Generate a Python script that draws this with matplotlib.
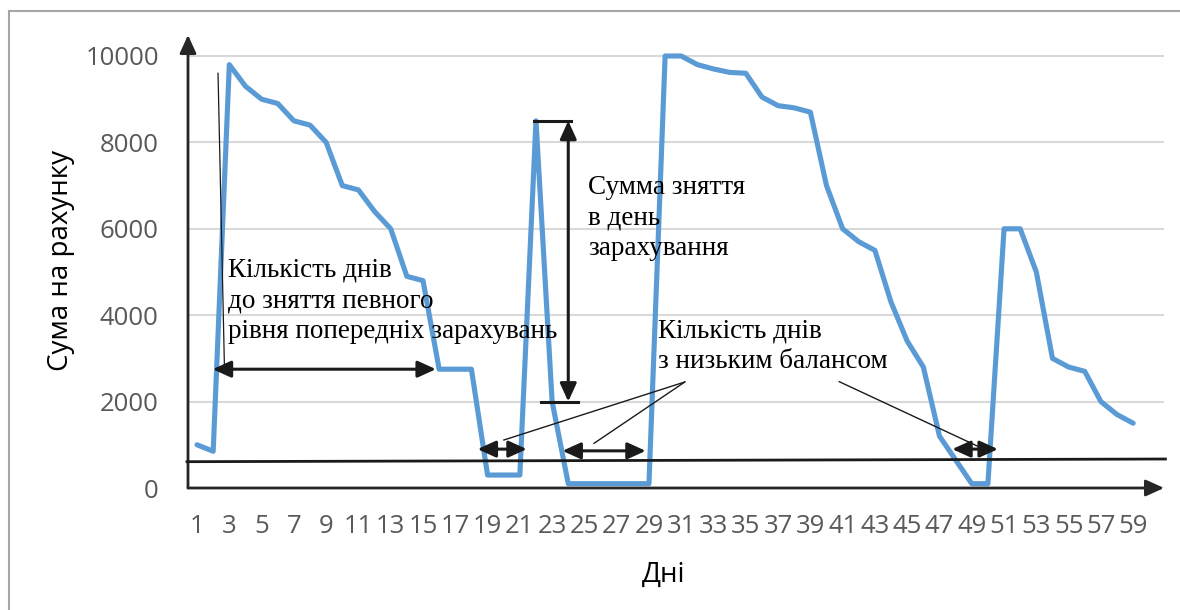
import numpy as np
import matplotlib.pyplot as plt
from matplotlib.lines import Line2D

# balance on the account per day
days = list(range(1, 60))
balance = [1000, 850, 9800, 9300, 9000, 8900, 8500, 8400, 8000, 7000,
           6900, 6400, 6000, 4900, 4800, 2750, 2750, 2750, 300, 300,
           300, 8500, 2000, 100, 100, 100, 100, 100, 100, 10000,
           10000, 9800, 9700, 9620, 9600, 9050, 8850, 8800, 8700, 7000,
           6000, 5700, 5500, 4300, 3400, 2800, 1200, 650, 100, 100,
           6000, 6000, 5000, 3000, 2800, 2700, 2000, 1700, 1500]
x_ticks = days[::2]
y_ticks = [0, 2000, 4000, 6000, 8000, 10000]

text_a = ['Кількість днів', 'до зняття певного', 'рівня попередніх зарахувань']
text_b = ['Сумма зняття', 'в день', 'зарахування']
text_c = ['Кількість днів', 'з низьким балансом']

line_color = '#5B9BD5'
serif = ['Liberation Serif', 'DejaVu Serif']
ink = '#1a1a1a'

plt.rcParams['font.family'] = ['Open Sans', 'DejaVu Sans']

fig = plt.figure(figsize=(11.8, 6.1), dpi=100)
ax = fig.add_axes([188 / 1180, 1 - 488 / 610, (1164 - 188) / 1180, (488 - 35) / 610])

ax.plot(days, balance, color=line_color, lw=3.7, solid_joinstyle='round',
        solid_capstyle='round', zorder=3)

ax.set_xlim(0.44, 60.91)
ax.set_ylim(0, 10486)
ax.set_xticks(x_ticks)
ax.set_yticks(y_ticks)
ax.tick_params(length=0, labelsize=18.5, labelcolor='#595959')
ax.tick_params(axis='x', pad=19)
ax.tick_params(axis='y', pad=21)
for s in ax.spines.values():
    s.set_visible(False)
ax.grid(axis='y', color='#D9D9D9', lw=1.5)
ax.set_axisbelow(True)

ax.set_ylabel('Сума на рахунку', fontsize=20, color='black')
ax.yaxis.set_label_coords(-0.116, 0.503)
ax.set_xlabel('Дні', fontsize=20, color='black')
ax.xaxis.set_label_coords(0.4877, -0.16)

# axis arrows
axis_kw = dict(arrowstyle='-|>,head_length=0.55,head_width=0.25', color='#262626',
               lw=2, shrinkA=0, shrinkB=0, mutation_scale=20)
ax.annotate('', xy=(1, 0), xytext=(0, 0), xycoords='axes fraction',
            arrowprops=axis_kw, annotation_clip=False)
ax.annotate('', xy=(0, 1), xytext=(0, 0), xycoords='axes fraction',
            arrowprops=axis_kw, annotation_clip=False)

# annotations
dbl_kw = dict(arrowstyle='<|-|>,head_length=0.55,head_width=0.25', color=ink,
              lw=2.2, shrinkA=0, shrinkB=0, mutation_scale=20)

def dbl_arrow(p0, p1):
    ax.annotate('', xy=p1, xytext=p0, arrowprops=dbl_kw, annotation_clip=False, zorder=4)

# threshold line
ax.plot([0.38, 61.0], [609, 671], color=ink, lw=2, clip_on=False, zorder=4)

# days until withdrawal
ax.plot([2.3, 2.7], [9600, 2750], color=ink, lw=0.9, zorder=4)
dbl_arrow((1.97, 2750), (15.8, 2750))
for txt, yb in zip(text_a, [4889, 4178, 3479]):
    ax.text(2.92, yb, txt, family=serif, fontsize=19.5, ha='left', va='baseline', zorder=5)

# withdrawn sum on deposit day
ax.plot([21.87, 24.16], [8500, 8500], color=ink, lw=2.2, zorder=4)
ax.plot([22.3, 24.6], [2000, 2000], color=ink, lw=2.2, zorder=4)
dbl_arrow((24.0, 2000), (24.0, 8500))
for txt, yb in zip(text_b, [6806, 6088, 5394]):
    ax.text(25.21, yb, txt, family=serif, fontsize=19.5, ha='left', va='baseline', zorder=5)

# days with low balance
dbl_arrow((18.38, 900), (21.43, 900))
dbl_arrow((23.64, 860), (28.8, 860))
dbl_arrow((47.79, 900), (50.62, 900))
ax.plot([31.22, 20.01], [2454, 1111], color=ink, lw=1, zorder=4)
ax.plot([31.22, 25.6], [2454, 1035], color=ink, lw=1, zorder=4)
ax.plot([40.79, 49.34], [2461, 972], color=ink, lw=1, zorder=4)
for txt, yb in zip(text_c, [3479, 2771]):
    ax.text(29.58, yb, txt, family=serif, fontsize=19.5, ha='left', va='baseline', zorder=5)

# frame of the original picture
fig.add_artist(Line2D([9 / 1180, 9 / 1180], [0, 1 - 10.5 / 610], color='#A6A6A6', lw=1.5))
fig.add_artist(Line2D([9 / 1180, 1], [1 - 10.5 / 610, 1 - 10.5 / 610], color='#A6A6A6', lw=1.5))

plt.savefig('out.png', dpi=100)
